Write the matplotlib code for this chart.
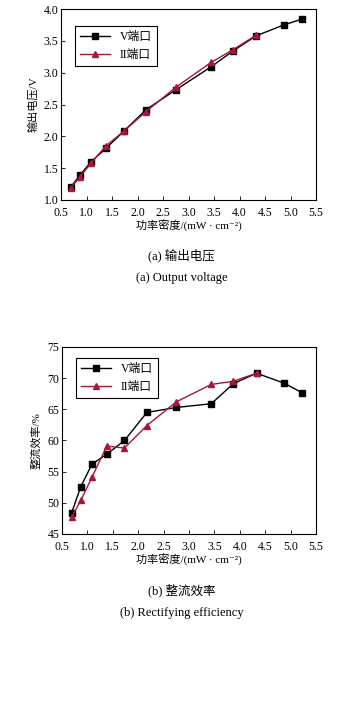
import matplotlib.pyplot as plt

plt.rcParams['font.family'] = ['Liberation Serif', 'Noto Sans CJK SC', 'DejaVu Serif']
plt.rcParams['axes.unicode_minus'] = False

# 功率密度 (mW/cm2)
power = [0.69, 0.87, 1.09, 1.38, 1.73, 2.17, 2.75, 3.44, 3.87, 4.33, 4.87, 5.22]
power_ii = power[:10]

# 输出电压 / V
volt_v = [1.20, 1.39, 1.60, 1.81, 2.08, 2.42, 2.73, 3.09, 3.34, 3.58, 3.75, 3.84]
volt_ii = [1.19, 1.36, 1.58, 1.85, 2.08, 2.39, 2.77, 3.16, 3.36, 3.59]

# 整流效率 / %
eff_v = [48.4, 52.6, 56.2, 57.8, 60.0, 64.5, 65.3, 65.9, 69.1, 70.8, 69.2, 67.7]
eff_ii = [47.7, 50.4, 54.1, 59.1, 58.8, 62.4, 66.2, 69.0, 69.5, 70.8]

labels = ['V端口', 'II端口']
xticks = [0.5, 1.0, 1.5, 2.0, 2.5, 3.0, 3.5, 4.0, 4.5, 5.0, 5.5]
red = '#a8163a'

fig = plt.figure(figsize=(3.63, 7.17), dpi=100)
W, H = 363, 717


def add_ax(left, top, right, bottom):
    return fig.add_axes([left / W, 1 - bottom / H, (right - left) / W, (bottom - top) / H])


def style(ax, ylabel, ylim, yticks, ylab_fmt, leg_y):
    ax.set_xlim(0.5, 5.5)
    ax.set_xticks(xticks)
    ax.set_xticklabels(['%.1f' % t for t in xticks])
    ax.set_ylim(*ylim)
    ax.set_yticks(yticks)
    ax.set_yticklabels([ylab_fmt % t for t in yticks])
    ax.tick_params(direction='in', labelsize=8.5, length=3, width=0.6)
    ax.tick_params(axis='x', pad=5)
    ax.tick_params(axis='y', pad=2)
    for s in ax.spines.values():
        s.set_linewidth(0.8)
    ax.set_xlabel('功率密度/(mW · cm⁻²)', fontsize=8, labelpad=1)
    ax.set_ylabel(ylabel, fontsize=8, labelpad=4)
    ax.legend(loc='upper left', bbox_to_anchor=(0.055, leg_y), fontsize=8.5,
              frameon=True, fancybox=False, edgecolor='black', framealpha=1,
              handlelength=2.6, borderpad=0.4, labelspacing=0.5, borderaxespad=0)
    ax.get_legend().get_frame().set_linewidth(0.8)


# (a) 输出电压
ax1 = add_ax(61, 9, 316, 200)
ax1.plot(power, volt_v, color='black', marker='s', markersize=4, lw=1, label=labels[0])
ax1.plot(power_ii, volt_ii, color=red, marker='^', markersize=4.5, lw=1, label=labels[1])
style(ax1, '输出电压/V', (1.0, 4.0), [1.0, 1.5, 2.0, 2.5, 3.0, 3.5, 4.0], '%.1f', 0.91)

# (b) 整流效率
ax2 = add_ax(62, 347, 316, 534)
ax2.plot(power, eff_v, color='black', marker='s', markersize=4, lw=1, label=labels[0])
ax2.plot(power_ii, eff_ii, color=red, marker='^', markersize=4.5, lw=1, label=labels[1])
style(ax2, '整流效率/%', (45, 75), [45, 50, 55, 60, 65, 70, 75], '%d', 0.94)

fig.text(0.5, 1 - 255 / H, '(a) 输出电压', ha='center', va='center', fontsize=9)
fig.text(0.5, 1 - 278 / H, '(a) Output voltage', ha='center', va='center', fontsize=9)
fig.text(0.5, 1 - 590 / H, '(b) 整流效率', ha='center', va='center', fontsize=9)
fig.text(0.5, 1 - 613 / H, '(b) Rectifying efficiency', ha='center', va='center', fontsize=9)

fig.savefig('out.png', dpi=100)
